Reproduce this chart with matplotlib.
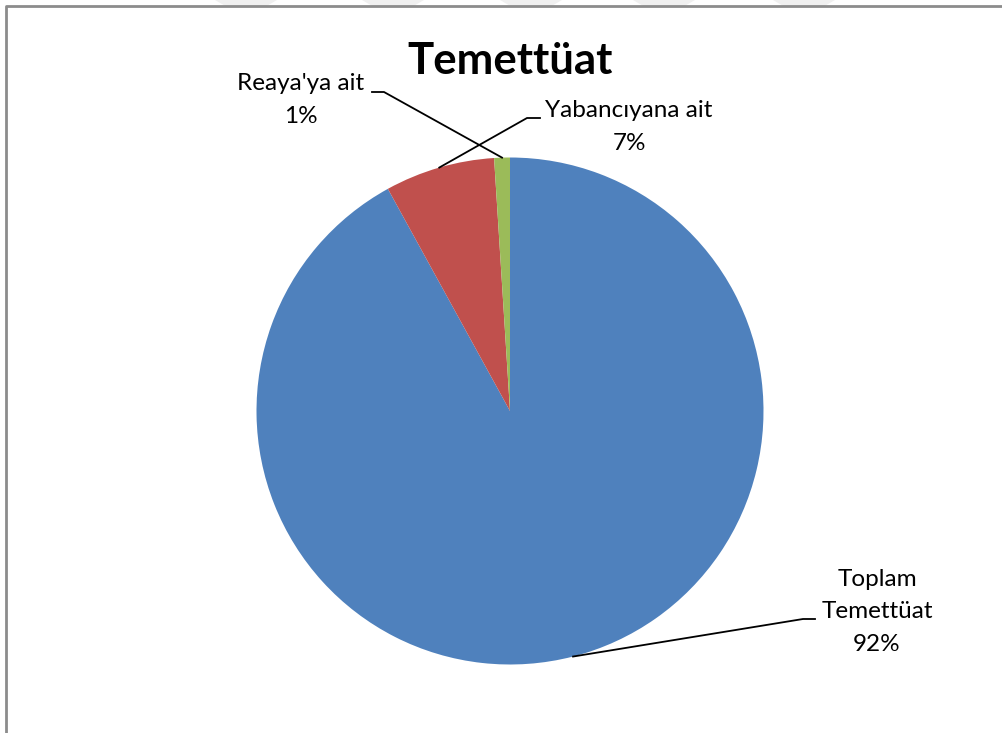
import matplotlib
matplotlib.use("Agg")
import matplotlib.pyplot as plt
from matplotlib.lines import Line2D
from matplotlib.patches import Polygon
import numpy as np

# slice data (clockwise from 12 o'clock)
labels = ["Toplam\nTemettüat", "Yabancıyana ait", "Reaya'ya ait"]
values = [92, 7, 1]
colors = ["#4F81BD", "#C0504D", "#9BBB59"]
title = "Temettüat"

W, H = 1002, 733
CX, CY, R = 510, 411, 253.5   # pie centre / radius in pixels


def px(x, y):
    # pixel position -> data coords (pie radius == 1)
    return (x - CX) / R, (CY - y) / R


plt.rcParams['font.family'] = ['Lato', 'DejaVu Sans']
fig = plt.figure(figsize=(W / 100, H / 100), dpi=100)
ax = fig.add_axes([0, 0, 1, 1])

wedges, _ = ax.pie(values, colors=colors, startangle=90, counterclock=False,
                   radius=1, wedgeprops=dict(linewidth=0))

ax.set_aspect('auto')
ax.set_xlim(px(0, 0)[0], px(W, 0)[0])
ax.set_ylim(px(0, H)[1], px(0, 0)[1])
ax.axis('off')

# faint watermark stripes above the frame
for x0 in [215, 362, 500, 633, 773]:
    fig.patches.append(Polygon([(x0 / W, 1), ((x0 + 62) / W, 1),
                                ((x0 + 50) / W, 1 - 7 / H), ((x0 + 12) / W, 1 - 7 / H)],
                               closed=True, transform=fig.transFigure,
                               facecolor="#f0f0f0", edgecolor="none", zorder=0))

# chart frame (top and left edges visible)
fig.lines.append(Line2D([6 / W, 6 / W, 1], [0, 1 - 6 / H, 1 - 6 / H],
                        transform=fig.transFigure, color="#8c8c8c", linewidth=2))

fig.text(510 / W, 1 - 61 / H, title, ha='center', va='center',
         fontsize=31.5, fontweight='bold', color='black')

# label text centre and elbow of the leader line (pixels)
label_pos = [(877, 612), (629, 127), (301, 100)]
elbow = [[(815, 619), (803, 619)], [(540, 118), (527, 118)], [(372, 92), (384, 92)]]
total = sum(values)
for w, lab, v, (tx, ty), el in zip(wedges, labels, values, label_pos, elbow):
    mid = np.deg2rad((w.theta1 + w.theta2) / 2)
    ax_x, ax_y = np.cos(mid), np.sin(mid)
    pts = [px(*el[0]), px(*el[1]), (ax_x, ax_y)]
    ax.plot([p[0] for p in pts], [p[1] for p in pts], color='black', linewidth=1.3)
    ax.text(*px(tx, ty), f"{lab}\n{v / total * 100:.0f}%", ha='center', va='center',
            fontsize=17.5, linespacing=1.7, color='black')

fig.savefig("out.png", dpi=100, facecolor='white')
